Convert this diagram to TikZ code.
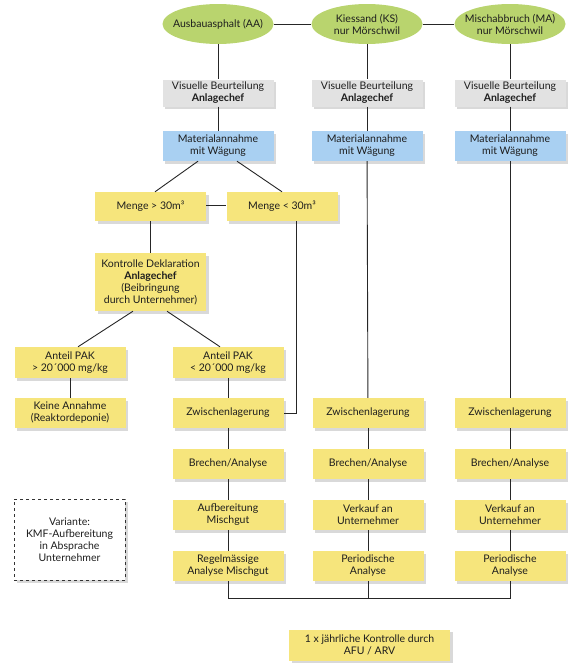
\documentclass[tikz,border=0pt]{standalone}
\usepackage{fontspec}
\setmainfont{Lato}
\usetikzlibrary{shapes.geometric,shadows,calc}
\definecolor{boxyellow}{HTML}{F6E57C}
\definecolor{boxblue}{HTML}{A9D0F2}
\definecolor{boxgray}{HTML}{E2E2E2}
\definecolor{ellgreen}{HTML}{B9D46E}
\definecolor{txt}{HTML}{1E1E1E}
\begin{document}
\begin{tikzpicture}[x=1pt,y=-1pt,
  font=\fontsize{10.5}{12}\selectfont, text=txt,
  base/.style={rectangle, minimum width=111pt, minimum height=30pt, inner sep=0pt, align=center,
    drop shadow={shadow xshift=2.5pt, shadow yshift=-2.5pt, opacity=0.3}},
  ybox/.style={base, fill=boxyellow},
  bbox/.style={base, fill=boxblue},
  gbox/.style={base, fill=boxgray, minimum height=27pt},
  src/.style={ellipse, fill=ellgreen, minimum width=111pt, minimum height=40pt,
    inner xsep=-16pt, inner ysep=-6pt, align=center},
  vbox/.style={base, fill=white, draw=black!80, dashed, line width=1pt, minimum height=81pt},
  conn/.style={draw=black!85, line width=0.9pt}]
\useasboundingbox (0,0) rectangle (574,672);

% sources
\node[src] (aa) at (218,24) {Ausbauasphalt (AA)};
\node[src] (ks) at (367,24) {Kiessand (KS)\\nur Mörschwil};
\node[src] (ma) at (510,24) {Mischabbruch (MA)\\nur Mörschwil};

% visual check
\node[gbox] (vaa) at (218,93) {Visuelle Beurteilung\\\textbf{Anlagechef}};
\node[gbox] (vks) at (367,93) {Visuelle Beurteilung\\\textbf{Anlagechef}};
\node[gbox] (vma) at (510,93) {Visuelle Beurteilung\\\textbf{Anlagechef}};

% material intake
\node[bbox] (waa) at (218,146) {Materialannahme\\mit Wägung};
\node[bbox] (wks) at (367,146) {Materialannahme\\mit Wägung};
\node[bbox] (wma) at (510,146) {Materialannahme\\mit Wägung};

% quantity
\node[ybox, minimum height=29pt] (mgt) at (150.5,206.5) {Menge > 30m³};
\node[ybox, minimum height=29pt] (mlt) at (282,206.5) {Menge < 30m³};

\node[ybox, minimum height=58pt] (kon) at (150.5,282) {Kontrolle Deklaration\\\textbf{Anlagechef}\\(Beibringung\\durch Unternehmer)};

\node[ybox, minimum height=31pt] (pgt) at (70,362.5) {Anteil PAK\\> 20´000 mg/kg};
\node[ybox, minimum height=31pt] (plt) at (228,362.5) {Anteil PAK\\< 20´000 mg/kg};

\node[ybox] (kein) at (70,413) {Keine Annahme\\(Reaktordeponie)};

% columns
\node[ybox] (zaa) at (228,413) {Zwischenlagerung};
\node[ybox] (zks) at (368,413) {Zwischenlagerung};
\node[ybox] (zma) at (510,413) {Zwischenlagerung};

\node[ybox] (baa) at (228,464) {Brechen/Analyse};
\node[ybox] (bks) at (368,464) {Brechen/Analyse};
\node[ybox] (bma) at (510,464) {Brechen/Analyse};

\node[ybox] (auf) at (228,515) {Aufbereitung\\Mischgut};
\node[ybox] (vkks) at (368,515) {Verkauf an\\Unternehmer};
\node[ybox] (vkma) at (510,515) {Verkauf an\\Unternehmer};

\node[ybox] (reg) at (228,566) {Regelmässige\\Analyse Mischgut};
\node[ybox] (paks) at (368,566) {Periodische\\Analyse};
\node[ybox] (pama) at (510,566) {Periodische\\Analyse};

\node[vbox] (var) at (69.5,539.5) {Variante:\\KMF-Aufbereitung\\in Absprache\\Unternehmer};

\node[ybox, minimum width=161pt, minimum height=31pt] (afu) at (369.5,645) {1 x jährliche Kontrolle durch\\AFU / ARV};

\coordinate (jaa) at (228,598);
\coordinate (jma) at (510,598);

% connectors
\draw[conn] (aa) -- (ks);
\draw[conn] (ks) -- (ma);
\draw[conn] (aa) -- (vaa);
\draw[conn] (ks) -- (vks);
\draw[conn] (ma) -- (vma);
\draw[conn] (vaa) -- (waa);
\draw[conn] (vks) -- (wks);
\draw[conn] (vma) -- (wma);

\draw[conn] ([xshift=-20pt]waa.south) -- ([xshift=4.5pt]mgt.north);
\draw[conn] ([xshift=19pt]waa.south) -- (mlt.north);
\draw[conn] ([yshift=1.5pt]mgt.east) -- ([yshift=1.5pt]mlt.west);
\draw[conn] (mgt) -- (kon);
\draw[conn] ([xshift=-17.5pt]kon.south) -- ([xshift=8pt]pgt.north);
\draw[conn] ([xshift=16.5pt]kon.south) -- ([xshift=-8pt]plt.north);
\draw[conn] (pgt) -- (kein);
\draw[conn] (plt) -- (zaa);
\draw[conn] ([xshift=14pt]mlt.south) |- (zaa.east);

\draw[conn] (wks) -- (zks);
\draw[conn] (wma) -- (zma);

\draw[conn] (zaa) -- (baa);
\draw[conn] (zks) -- (bks);
\draw[conn] (zma) -- (bma);
\draw[conn] (baa) -- (auf);
\draw[conn] (bks) -- (vkks);
\draw[conn] (bma) -- (vkma);
\draw[conn] (auf) -- (reg);
\draw[conn] (vkks) -- (paks);
\draw[conn] (vkma) -- (pama);

\draw[conn] (reg.south) -- (jaa) -- (jma) -- (pama.south);
\draw[conn] (paks.south) -- (paks.south |- jaa);
\end{tikzpicture}
\end{document}
